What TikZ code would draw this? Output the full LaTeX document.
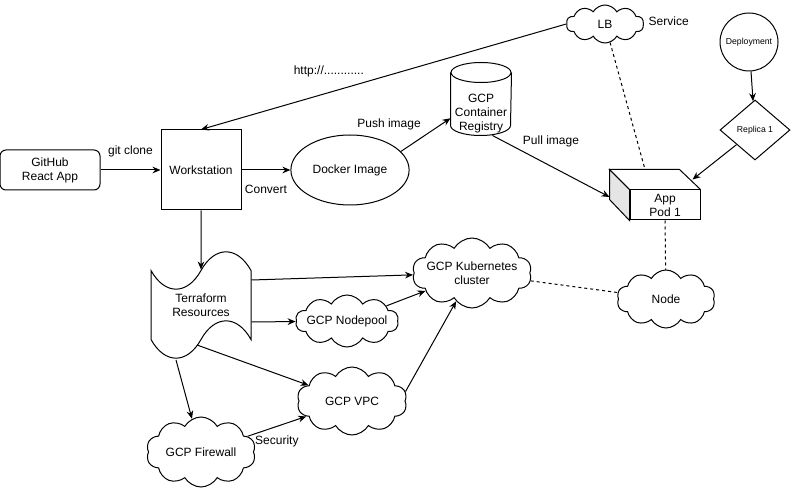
\documentclass[tikz,border=0pt]{standalone}
\usepackage{fontspec}
\setmainfont{Liberation Sans}
\usetikzlibrary{arrows.meta,calc,positioning,shapes,shapes.geometric,shapes.symbols}

\begin{document}
\begin{tikzpicture}[
			x=0.75pt, y=-0.75pt,
			font=\fontsize{9}{10.5}\selectfont,
			line width=0.75pt,
			boite/.style={draw, align=center},
			nuage/.style={draw, cloud, cloud puffs=10, cloud puff arc=120, cloud ignores aspect, align=center, inner sep=-2pt},
			petit/.style={font=\fontsize{6.5}{8}\selectfont},
			pointille/.style={dash pattern=on 2.25pt off 2.25pt},
			->,>={Stealth[length=6pt,width=5pt]} % fleches pleines
			]
			\useasboundingbox (0,0) rectangle (791,491);

			% Les noeuds
			\node[boite, rounded corners=4.5pt, minimum width=75pt, minimum height=30pt] (git) at (50,170) {GitHub\\React App};
			\node[boite, minimum size=60pt] (ws) at (201,170) {Workstation};
			\node[boite, ellipse, minimum width=75pt, minimum height=52.5pt] (dock) at (350,170) {Docker Image};
			\node[minimum width=45pt, minimum height=46.5pt,
				label={[align=center, yshift=-7.5pt]center:GCP\\Container\\Registry}] (reg) at (481,104) {};
			\node[nuage, minimum width=58pt, minimum height=28.5pt, label={[yshift=2pt]right:Service}] (lb) at (605,24) {LB};
			\node[boite, circle, petit, minimum size=43.5pt, inner sep=0pt] (dep) at (749,42) {Deployment};
			\node[boite, diamond, petit, minimum width=52.5pt, minimum height=45pt, inner sep=0pt] (rep) at (755,130) {Replica 1};
			\node[boite, minimum width=52.5pt, minimum height=22.5pt, inner sep=0pt] (pod) at (665,205) {App\\Pod 1};
			\node[nuage, minimum width=73.5pt, minimum height=43.5pt] (noeud) at (666,299) {Node};
			\node[nuage, minimum width=83pt, minimum height=52.5pt] (gke) at (472,273) {GCP Kubernetes\\cluster};
			\node[boite, tape, minimum width=75pt, minimum height=79.5pt, tape bend height=28pt] (tf) at (201,305) {Terraform\\Resources};
			\node[nuage, minimum width=75pt, minimum height=39pt] (pool) at (347,321) {GCP Nodepool};
			\node[nuage, minimum width=82.5pt, minimum height=51pt] (vpc) at (352,401) {GCP VPC};
			\node[nuage, minimum width=82pt, minimum height=52.5pt] (fw) at (201,452) {GCP Firewall};

			% Le registre en cylindre
			\draw[-] (reg.north west) -- ($(reg.south west)+(0,-10)$) arc[start angle=180, end angle=360, x radius=22.5pt, y radius=7.5pt] -- (reg.north east);
			\draw[-] (reg.north) ellipse[x radius=22.5pt, y radius=7.5pt];

			% Le pod en cube
			\filldraw[-, fill=gray!20] (pod.north west) -- ++(-20,-20) -- ++(0,30) -- (pod.south west) -- cycle;
			\draw[-] (pod.north west) -- ++(-20,-20) -- ++(70,0) -- (pod.north east);
			\coordinate (podhaut) at ($(pod.north)+(-20,-20)$);
			\coordinate (podgauche) at ($(pod.west)+(-20,-8)$);
			\coordinate (poddroite) at ($(pod.north east)+(-8,-10)$);

			% Les arêtes
			\draw[->] (git) to node[midway, above=6pt] {git clone} (ws);
			\draw[->] (ws) to node[midway, below=8pt] {Convert} (dock);
			\draw[->] (dock.20) to node[midway, above left] {Push image} (reg.205);
			\draw[->] (reg.-70) to node[midway, above=11pt] {Pull image} (podgauche);
			\draw[->] (lb.west) to node[pos=.65, above=8pt] {http://............} (ws.north);
			\draw[-, pointille] (lb) to (podhaut);
			\draw[->] (dep) to (rep);
			\draw[->] (rep) to (poddroite);
			\draw[-, pointille] (pod.south) to (noeud);
			\draw[-, pointille] (gke) to (noeud);
			\draw[->] (ws) to (tf);
			\draw[->] ($(tf.east)+(0,-25)$) to (gke);
			\draw[->] ($(tf.east)+(0,17)$) to (pool);
			\draw[->] (pool) to (gke);
			\draw[->] ($(tf.center)+(-4,40)$) to (vpc);
			\draw[->] ($(tf.center)+(-25,55)$) to (fw);
			\draw[->] (vpc.10) to (gke);
			\draw[->] (fw) to node[midway, below=3pt] {Security} (vpc);
		\end{tikzpicture}
\end{document}
